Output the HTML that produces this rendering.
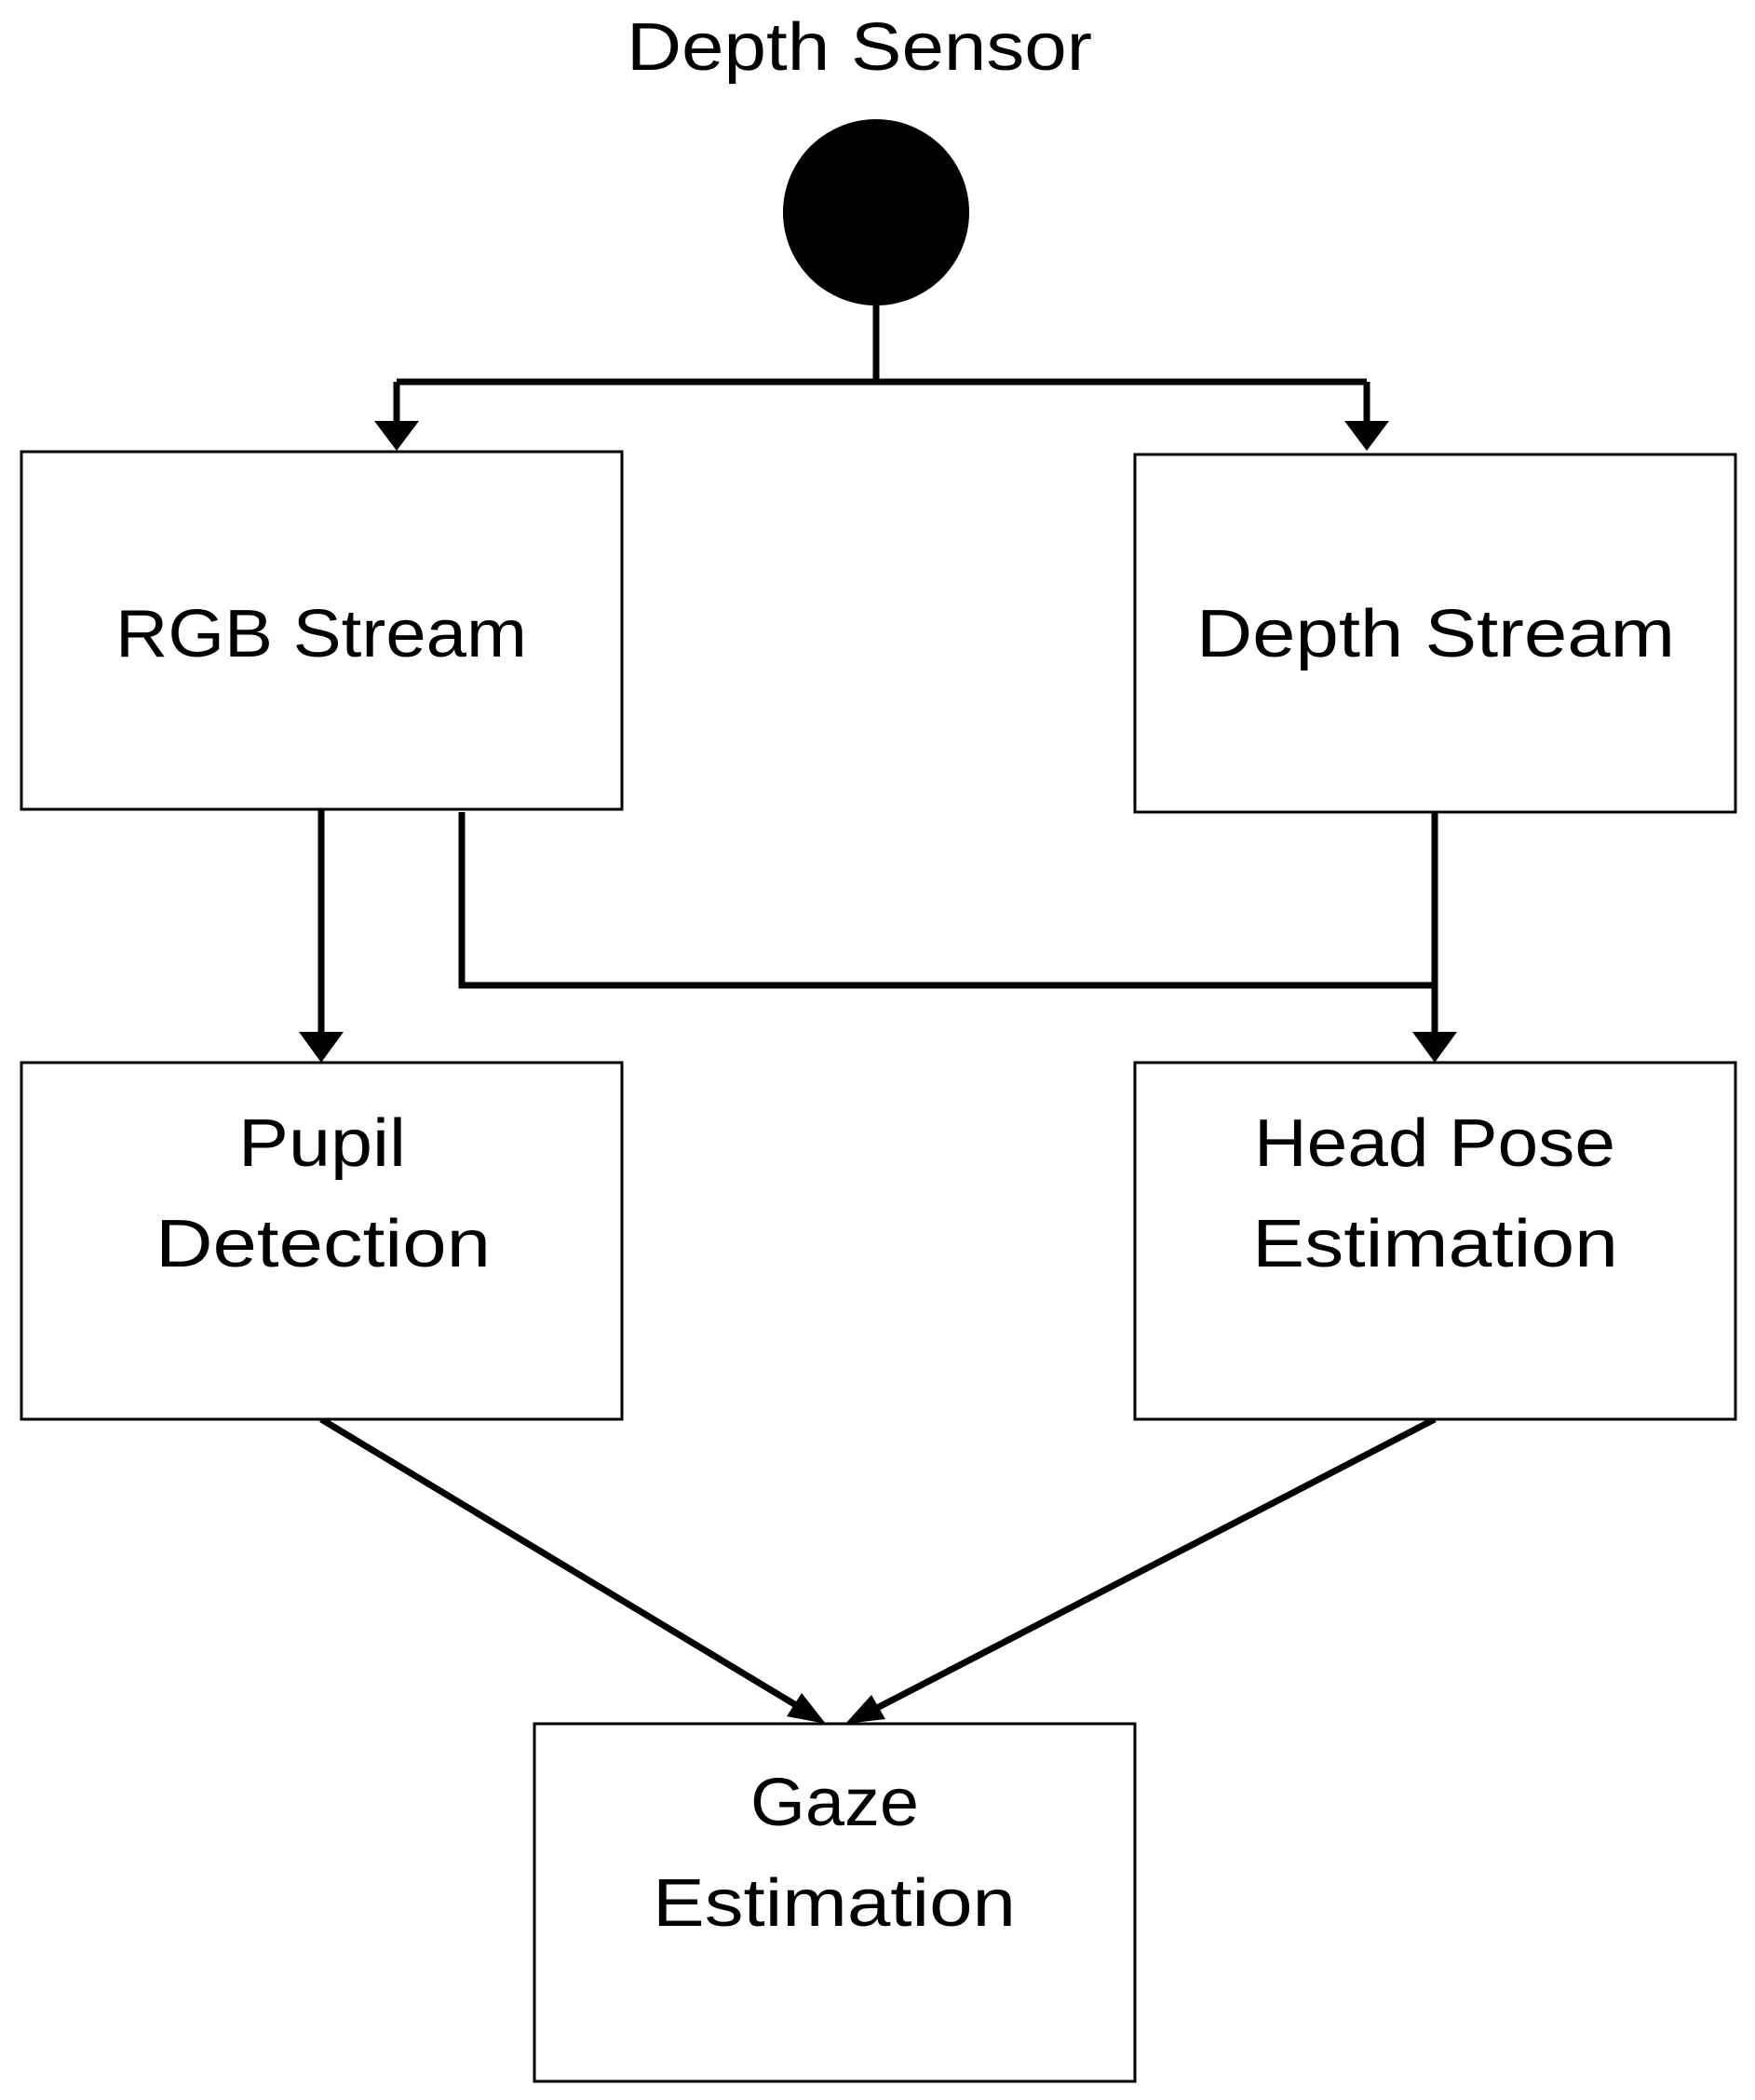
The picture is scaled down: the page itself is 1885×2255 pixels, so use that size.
<!DOCTYPE html>
<html><head><meta charset="utf-8"><style>html,body{margin:0;padding:0;background:#fff}svg{display:block}</style></head>
<body>
<svg width="1885" height="2255" viewBox="0 0 1885 2255" xmlns="http://www.w3.org/2000/svg" font-family="'Liberation Sans', sans-serif" font-size="72" fill="#000">
<rect width="1885" height="2255" fill="#fff"/>
<text x="673" y="75" textLength="500" lengthAdjust="spacingAndGlyphs">Depth Sensor</text>
<ellipse cx="941" cy="228" rx="100" ry="100"/>
<g stroke="#000" stroke-width="7" fill="none">
<path d="M941,328V410"/>
<path d="M426,410H1468"/>
<path d="M426,410V455"/><path d="M1468,410V455"/>
<path d="M345,869V1110"/>
<path d="M496,872V1058H1541"/>
<path d="M1541,872V1110"/>
<path d="M345,1524L855,1831"/>
<path d="M1541,1524L942,1834"/>
</g>
<g fill="#000">
<path d="M402,452H450L426,484z"/>
<path d="M1444,452H1492L1468,484z"/>
<path d="M321,1108H369L345,1141z"/>
<path d="M1517,1108H1565L1541,1141z"/>
<path d="M887,1851L845,1843L861,1818z"/>
<path d="M908,1851L936,1820L951,1846z"/>
</g>
<g fill="#fff" stroke="#000" stroke-width="3">
<rect x="23" y="485" width="645" height="384"/>
<rect x="1219" y="488" width="645" height="384"/>
<rect x="23" y="1141" width="645" height="383"/>
<rect x="1219" y="1141" width="645" height="383"/>
<rect x="574" y="1851" width="645" height="384"/>
</g>
<text x="124" y="705" textLength="442" lengthAdjust="spacingAndGlyphs">RGB Stream</text>
<text x="1285" y="705" textLength="514" lengthAdjust="spacingAndGlyphs">Depth Stream</text>
<text x="256" y="1252" textLength="180" lengthAdjust="spacingAndGlyphs">Pupil</text>
<text x="167" y="1360" textLength="360" lengthAdjust="spacingAndGlyphs">Detection</text>
<text x="1347" y="1252" textLength="388" lengthAdjust="spacingAndGlyphs">Head Pose</text>
<text x="1345" y="1360" textLength="393" lengthAdjust="spacingAndGlyphs">Estimation</text>
<text x="806" y="1960" textLength="181" lengthAdjust="spacingAndGlyphs">Gaze</text>
<text x="701" y="2068" textLength="390" lengthAdjust="spacingAndGlyphs">Estimation</text>
</svg>
</body></html>
